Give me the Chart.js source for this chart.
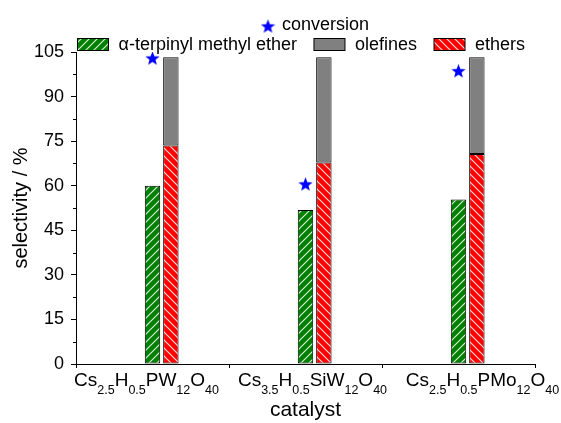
<!DOCTYPE html>
<html>
<head>
<meta charset="utf-8">
<script src="https://cdn.jsdelivr.net/npm/chart.js@4/dist/chart.umd.min.js"></script>
<style>
  html, body { margin: 0; padding: 0; background: #fff; }
</style>
</head>
<body>
<canvas id="chart" width="561" height="423"></canvas>
<script>
// catalyst names, "_{..}" marks a subscript
const CATEGORIES = ["Cs_{2.5}H_{0.5}PW_{12}O_{40}", "Cs_{3.5}H_{0.5}SiW_{12}O_{40}", "Cs_{2.5}H_{0.5}PMo_{12}O_{40}"]
const TERPINYL_ETHER = [60.0, 51.8, 55.4]
const ETHERS = [73.5, 67.8, 70.7]
const OLEFINES = [29.7, 35.4, 32.5]
const CONVERSION = [103.0, 60.6, 98.7]
const Y_TICKS = [0, 15, 30, 45, 60, 75, 90, 105]

const FONT = "'Liberation Sans', Arial, sans-serif"
const GREEN = "#008000"
const RED = "#ff0000"
const GRAY = "#808080"
const BLUE = "#0000ff"
// the x labels in the original are not centred on their category
const LABEL_SHIFT = [-6, 7, 24]

function hatch(color, dir) {
  const s = 8
  const c = document.createElement("canvas")
  c.width = s
  c.height = s
  const g = c.getContext("2d")
  g.fillStyle = color
  g.fillRect(0, 0, s, s)
  g.strokeStyle = "rgba(255,255,255,0.85)"
  g.lineWidth = 1.2
  g.beginPath()
  if (dir === "/") {
    g.moveTo(-1, s + 1); g.lineTo(s + 1, -1)
    g.moveTo(-1, 1); g.lineTo(1, -1)
    g.moveTo(s - 1, s + 1); g.lineTo(s + 1, s - 1)
  } else {
    g.moveTo(-1, -1); g.lineTo(s + 1, s + 1)
    g.moveTo(s - 1, -1); g.lineTo(s + 1, 1)
    g.moveTo(-1, s - 1); g.lineTo(1, s + 1)
  }
  g.stroke()
  return g.createPattern(c, "repeat")
}

function starImage(size, color) {
  const c = document.createElement("canvas")
  c.width = size
  c.height = size
  const g = c.getContext("2d")
  const r = size / 2
  const cy = r + 0.8
  g.beginPath()
  for (let i = 0; i < 10; i++) {
    const a = -Math.PI / 2 + i * Math.PI / 5
    const rad = i % 2 ? r * 0.42 : r
    g.lineTo(r + rad * Math.cos(a), cy + rad * Math.sin(a))
  }
  g.closePath()
  g.fillStyle = color
  g.fill()
  return c
}

const star = starImage(15, BLUE)
const greenHatch = hatch(GREEN, "/")
const redHatch = hatch(RED, "\\")

function parseFormula(text) {
  const runs = []
  const re = /_\{([^}]*)\}|([^_]+)/g
  let m
  while ((m = re.exec(text))) {
    if (m[1] !== undefined) runs.push({ text: m[1], sub: true })
    else runs.push({ text: m[2], sub: false })
  }
  return runs
}

const decorations = {
  id: "decorations",
  afterDraw(chart) {
    const ctx = chart.ctx
    const area = chart.chartArea
    const x = chart.scales.x
    const y = chart.scales.y
    ctx.save()

    // minor ticks on y
    ctx.strokeStyle = "#000"
    ctx.lineWidth = 1
    const step = Y_TICKS[1] - Y_TICKS[0]
    for (let v = Y_TICKS[0] + step / 2; v < Y_TICKS[Y_TICKS.length - 1]; v += step) {
      const py = Math.round(y.getPixelForValue(v)) + 0.5
      ctx.beginPath()
      ctx.moveTo(area.left - 3, py)
      ctx.lineTo(area.left, py)
      ctx.stroke()
    }

    // x labels with subscripts
    ctx.fillStyle = "#000"
    ctx.textBaseline = "alphabetic"
    ctx.textAlign = "left"
    const mainFont = "19px " + FONT
    const subFont = "12.5px " + FONT
    CATEGORIES.forEach((label, i) => {
      const runs = parseFormula(label)
      let w = 0
      runs.forEach(r => {
        ctx.font = r.sub ? subFont : mainFont
        r.w = ctx.measureText(r.text).width
        w += r.w
      })
      let px = x.getPixelForValue(i) - w / 2 + LABEL_SHIFT[i]
      const base = area.bottom + 22
      runs.forEach(r => {
        ctx.font = r.sub ? subFont : mainFont
        ctx.fillText(r.text, px, r.sub ? base + 8 : base)
        px += r.w
      })
    })

    // legend
    ctx.font = "18px " + FONT
    ctx.textBaseline = "alphabetic"
    const sx = area.left + 192
    ctx.drawImage(star, sx - 7.5, 18.5, 15, 15)
    ctx.fillText("conversion", sx + 14, 30)

    const items = [
      { label: "α-terpinyl methyl ether", fill: greenHatch },
      { label: "olefines", fill: GRAY },
      { label: "ethers", fill: redHatch }
    ]
    let lx = area.left + 1.5
    const top = 38.5
    items.forEach(it => {
      ctx.fillStyle = it.fill
      ctx.fillRect(lx, top, 31, 12)
      ctx.strokeStyle = "#000"
      ctx.lineWidth = 1
      ctx.strokeRect(lx, top, 31, 12)
      ctx.fillStyle = "#000"
      ctx.fillText(it.label, lx + 41, 50)
      lx += 41 + ctx.measureText(it.label).width + 17
    })
    ctx.restore()
  }
}

const barStyle = {
  borderColor: "#000",
  borderWidth: 1,
  borderSkipped: false,
  categoryPercentage: 0.36,
  barPercentage: 0.84
}

new Chart(document.getElementById("chart"), {
  type: "bar",
  data: {
    labels: CATEGORIES,
    datasets: [
      {
        type: "line",
        label: "conversion",
        data: CONVERSION,
        showLine: false,
        pointStyle: star,
        pointRadius: 7
      },
      { label: "", data: CATEGORIES.map(() => null), stack: "spacer", ...barStyle },
      { label: "α-terpinyl methyl ether", data: TERPINYL_ETHER, stack: "terpinyl", backgroundColor: greenHatch, ...barStyle },
      { label: "ethers", data: ETHERS, stack: "total", backgroundColor: redHatch, ...barStyle },
      { label: "olefines", data: OLEFINES, stack: "total", backgroundColor: GRAY, ...barStyle }
    ]
  },
  options: {
    responsive: false,
    animation: false,
    devicePixelRatio: 1,
    layout: { padding: { top: 52, right: 26, left: 0, bottom: 0 } },
    scales: {
      x: {
        stacked: true,
        offset: true,
        grid: { offset: true, drawOnChartArea: false, tickLength: 4, color: "#000" },
        border: { color: "#000", width: 1 },
        ticks: { callback: () => "" },
        title: { display: true, text: "catalyst", color: "#000", font: { size: 21, family: FONT }, padding: 0 },
        afterFit: s => { s.height = 59 }
      },
      y: {
        stacked: true,
        min: Y_TICKS[0],
        max: Y_TICKS[Y_TICKS.length - 1],
        ticks: { stepSize: Y_TICKS[1] - Y_TICKS[0], color: "#000", font: { size: 18, family: FONT }, padding: 7 },
        grid: { drawOnChartArea: false, tickLength: 5, color: "#000" },
        border: { color: "#000", width: 1 },
        title: { display: true, text: "selectivity / %", color: "#000", font: { size: 20, family: FONT }, padding: { top: 9 } },
        afterFit: s => { s.width = 76 }
      }
    },
    plugins: {
      legend: { display: false },
      tooltip: { enabled: false }
    }
  },
  plugins: [decorations]
})
</script>
</body>
</html>
